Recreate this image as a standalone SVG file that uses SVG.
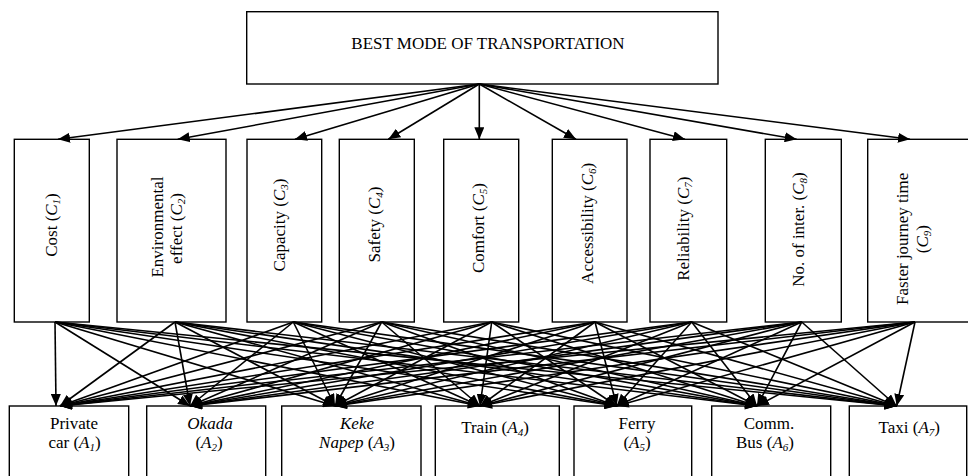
<svg xmlns="http://www.w3.org/2000/svg" width="968" height="476" viewBox="0 0 968 476">
<defs>
<marker id="ah" markerUnits="userSpaceOnUse" markerWidth="12" markerHeight="10" refX="12" refY="5" orient="auto">
<path d="M0,0 L12,5 L0,10 z" fill="#000"/>
</marker>
</defs>
<style>
.box{fill:#fff;stroke:#000;stroke-width:1.4}
.t{font-family:"Liberation Serif","Times New Roman",serif;font-size:17px;fill:#000}
.i{font-style:italic}
.s{font-size:11px;font-style:italic}
.c line{stroke:#000;stroke-width:1.6;marker-end:url(#ah)}
</style>
<rect width="968" height="476" fill="#fff"/>

<g id="goal">
<rect class="box" x="246.7" y="11.7" width="471.3" height="72.3"/>
<text class="t" x="488" y="49" text-anchor="middle">BEST MODE OF TRANSPORTATION</text>
</g>

<g id="C1">
<rect class="box" x="14.3" y="139.3" width="75" height="182.7"/>
<text class="t" transform="translate(57,225) rotate(-90)" text-anchor="middle">Cost (<tspan class="i">C</tspan><tspan class="s" dy="3">1</tspan><tspan dy="-3">)</tspan></text>
</g>
<g id="C2">
<rect class="box" x="117" y="139.3" width="109" height="182.7"/>
<text class="t" transform="translate(162.5,227) rotate(-90)" text-anchor="middle">Environmental</text>
<text class="t" transform="translate(182,228.5) rotate(-90)" text-anchor="middle">effect (<tspan class="i">C</tspan><tspan class="s" dy="3">2</tspan><tspan dy="-3">)</tspan></text>
</g>
<g id="C3">
<rect class="box" x="247" y="139.3" width="74.7" height="182.7"/>
<text class="t" transform="translate(285,225) rotate(-90)" text-anchor="middle">Capacity (<tspan class="i">C</tspan><tspan class="s" dy="3">3</tspan><tspan dy="-3">)</tspan></text>
</g>
<g id="C4">
<rect class="box" x="339.3" y="139.3" width="75" height="182.7"/>
<text class="t" transform="translate(380,224.5) rotate(-90)" text-anchor="middle">Safety (<tspan class="i">C</tspan><tspan class="s" dy="3">4</tspan><tspan dy="-3">)</tspan></text>
</g>
<g id="C5">
<rect class="box" x="443.7" y="139.3" width="75" height="182.7"/>
<text class="t" transform="translate(484,228) rotate(-90)" text-anchor="middle">Comfort (<tspan class="i">C</tspan><tspan class="s" dy="3">5</tspan><tspan dy="-3">)</tspan></text>
</g>
<g id="C6">
<rect class="box" x="552.3" y="139.3" width="74.7" height="182.7"/>
<text class="t" transform="translate(593,223.3) rotate(-90)" text-anchor="middle">Accessibility (<tspan class="i">C</tspan><tspan class="s" dy="3">6</tspan><tspan dy="-3">)</tspan></text>
</g>
<g id="C7">
<rect class="box" x="650" y="139.3" width="76.7" height="182.7"/>
<text class="t" transform="translate(688.5,228.7) rotate(-90)" text-anchor="middle">Reliability (<tspan class="i">C</tspan><tspan class="s" dy="3">7</tspan><tspan dy="-3">)</tspan></text>
</g>
<g id="C8">
<rect class="box" x="765.3" y="139.3" width="76" height="182.7"/>
<text class="t" transform="translate(804,229.5) rotate(-90)" text-anchor="middle">No. of inter. (<tspan class="i">C</tspan><tspan class="s" dy="3">8</tspan><tspan dy="-3">)</tspan></text>
</g>
<g id="C9">
<rect class="box" x="867.7" y="139.3" width="105" height="182.7"/>
<text class="t" transform="translate(907.5,238.8) rotate(-90)" text-anchor="middle">Faster journey time</text>
<text class="t" transform="translate(928,239.2) rotate(-90)" text-anchor="middle">(<tspan class="i">C</tspan><tspan class="s" dy="3">9</tspan><tspan dy="-3">)</tspan></text>
</g>

<g id="A1">
<rect class="box" x="9.3" y="406" width="119.4" height="80"/>
<text class="t" x="74" y="429.3" text-anchor="middle">Private</text>
<text class="t" x="74.5" y="448" text-anchor="middle">car (<tspan class="i">A</tspan><tspan class="s" dy="3">1</tspan><tspan dy="-3">)</tspan></text>
</g>
<g id="A2">
<rect class="box" x="146.7" y="406" width="119" height="80"/>
<text class="t i" x="210" y="429.3" text-anchor="middle">Okada</text>
<text class="t" x="209" y="448" text-anchor="middle">(<tspan class="i">A</tspan><tspan class="s" dy="3">2</tspan><tspan dy="-3">)</tspan></text>
</g>
<g id="A3">
<rect class="box" x="281.7" y="406" width="139.3" height="80"/>
<text class="t i" x="357" y="429.3" text-anchor="middle">Keke</text>
<text class="t" x="357" y="448" text-anchor="middle"><tspan class="i">Napep</tspan> (<tspan class="i">A</tspan><tspan class="s" dy="3">3</tspan><tspan dy="-3">)</tspan></text>
</g>
<g id="A4">
<rect class="box" x="435.3" y="406" width="124" height="80"/>
<text class="t" x="495" y="432.5" text-anchor="middle">Train (<tspan class="i">A</tspan><tspan class="s" dy="3">4</tspan><tspan dy="-3">)</tspan></text>
</g>
<g id="A5">
<rect class="box" x="574" y="406" width="117.7" height="80"/>
<text class="t" x="637" y="429.3" text-anchor="middle">Ferry</text>
<text class="t" x="637" y="448" text-anchor="middle">(<tspan class="i">A</tspan><tspan class="s" dy="3">5</tspan><tspan dy="-3">)</tspan></text>
</g>
<g id="A6">
<rect class="box" x="711.7" y="406" width="119" height="80"/>
<text class="t" x="769" y="429.3" text-anchor="middle">Comm.</text>
<text class="t" x="765" y="448" text-anchor="middle">Bus (<tspan class="i">A</tspan><tspan class="s" dy="3">6</tspan><tspan dy="-3">)</tspan></text>
</g>
<g id="A7">
<rect class="box" x="849.3" y="406" width="117.4" height="80"/>
<text class="t" x="909.3" y="432.5" text-anchor="middle">Taxi (<tspan class="i">A</tspan><tspan class="s" dy="3">7</tspan><tspan dy="-3">)</tspan></text>
</g>

<g id="connectors" class="c">
<line x1="479.3" y1="84" x2="58" y2="139.3"/>
<line x1="479.3" y1="84" x2="177.7" y2="139.3"/>
<line x1="479.3" y1="84" x2="295" y2="139.3"/>
<line x1="479.3" y1="84" x2="388.3" y2="139.3"/>
<line x1="479.3" y1="84" x2="479.3" y2="139.3"/>
<line x1="479.3" y1="84" x2="576" y2="139.3"/>
<line x1="479.3" y1="84" x2="685" y2="139.3"/>
<line x1="479.3" y1="84" x2="796.7" y2="139.3"/>
<line x1="479.3" y1="84" x2="910" y2="139.3"/>

<line x1="55" y1="322" x2="56" y2="406"/>
<line x1="55" y1="322" x2="190" y2="406"/>
<line x1="55" y1="322" x2="335" y2="406"/>
<line x1="55" y1="322" x2="480" y2="406"/>
<line x1="55" y1="322" x2="616.7" y2="406"/>
<line x1="55" y1="322" x2="757" y2="406"/>
<line x1="55" y1="322" x2="896.7" y2="406"/>

<line x1="175" y1="322" x2="60" y2="406"/>
<line x1="175" y1="322" x2="190" y2="406"/>
<line x1="175" y1="322" x2="335" y2="406"/>
<line x1="175" y1="322" x2="480" y2="406"/>
<line x1="175" y1="322" x2="616.7" y2="406"/>
<line x1="175" y1="322" x2="757" y2="406"/>
<line x1="175" y1="322" x2="896.7" y2="406"/>

<line x1="293.3" y1="322" x2="60" y2="406"/>
<line x1="293.3" y1="322" x2="190" y2="406"/>
<line x1="293.3" y1="322" x2="335" y2="406"/>
<line x1="293.3" y1="322" x2="480" y2="406"/>
<line x1="293.3" y1="322" x2="616.7" y2="406"/>
<line x1="293.3" y1="322" x2="757" y2="406"/>
<line x1="293.3" y1="322" x2="896.7" y2="406"/>

<line x1="381.7" y1="322" x2="60" y2="406"/>
<line x1="381.7" y1="322" x2="190" y2="406"/>
<line x1="381.7" y1="322" x2="335" y2="406"/>
<line x1="381.7" y1="322" x2="480" y2="406"/>
<line x1="381.7" y1="322" x2="616.7" y2="406"/>
<line x1="381.7" y1="322" x2="757" y2="406"/>
<line x1="381.7" y1="322" x2="896.7" y2="406"/>

<line x1="491.7" y1="322" x2="60" y2="406"/>
<line x1="491.7" y1="322" x2="190" y2="406"/>
<line x1="491.7" y1="322" x2="335" y2="406"/>
<line x1="491.7" y1="322" x2="480" y2="406"/>
<line x1="491.7" y1="322" x2="616.7" y2="406"/>
<line x1="491.7" y1="322" x2="757" y2="406"/>
<line x1="491.7" y1="322" x2="896.7" y2="406"/>

<line x1="595" y1="322" x2="60" y2="406"/>
<line x1="595" y1="322" x2="190" y2="406"/>
<line x1="595" y1="322" x2="335" y2="406"/>
<line x1="595" y1="322" x2="480" y2="406"/>
<line x1="595" y1="322" x2="616.7" y2="406"/>
<line x1="595" y1="322" x2="757" y2="406"/>
<line x1="595" y1="322" x2="896.7" y2="406"/>

<line x1="691.7" y1="322" x2="60" y2="406"/>
<line x1="691.7" y1="322" x2="190" y2="406"/>
<line x1="691.7" y1="322" x2="335" y2="406"/>
<line x1="691.7" y1="322" x2="480" y2="406"/>
<line x1="691.7" y1="322" x2="616.7" y2="406"/>
<line x1="691.7" y1="322" x2="757" y2="406"/>
<line x1="691.7" y1="322" x2="896.7" y2="406"/>

<line x1="801.7" y1="322" x2="60" y2="406"/>
<line x1="801.7" y1="322" x2="190" y2="406"/>
<line x1="801.7" y1="322" x2="335" y2="406"/>
<line x1="801.7" y1="322" x2="480" y2="406"/>
<line x1="801.7" y1="322" x2="616.7" y2="406"/>
<line x1="801.7" y1="322" x2="757" y2="406"/>
<line x1="801.7" y1="322" x2="896.7" y2="406"/>

<line x1="915" y1="322" x2="60" y2="406"/>
<line x1="915" y1="322" x2="190" y2="406"/>
<line x1="915" y1="322" x2="335" y2="406"/>
<line x1="915" y1="322" x2="480" y2="406"/>
<line x1="915" y1="322" x2="616.7" y2="406"/>
<line x1="915" y1="322" x2="757" y2="406"/>
<line x1="915" y1="322" x2="896.7" y2="406"/>
</g>
</svg>
